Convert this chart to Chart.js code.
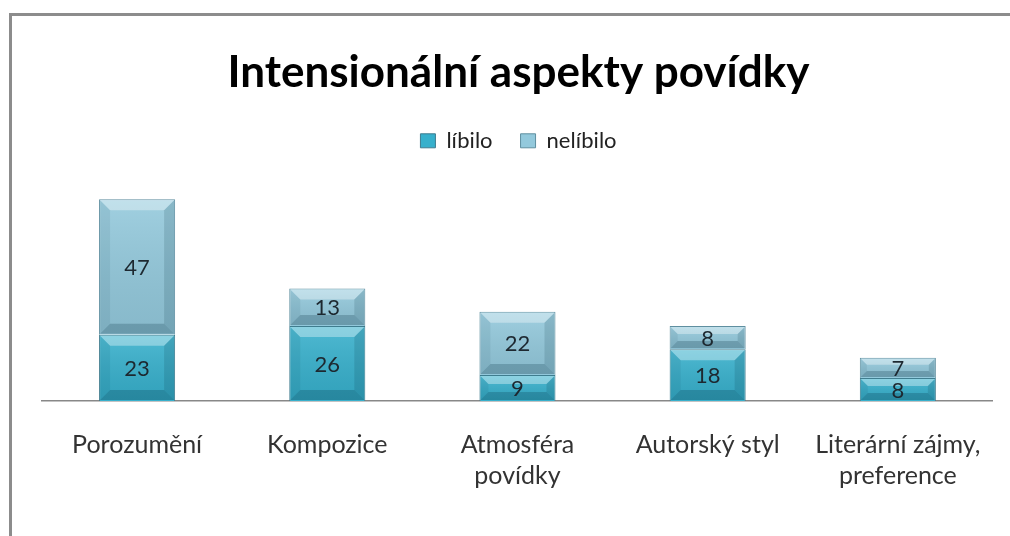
<!DOCTYPE html>
<html>
<head>
<meta charset="utf-8">
<script src="https://cdn.jsdelivr.net/npm/chart.js@4/dist/chart.umd.min.js"></script>
<style>
    html, body { margin: 0; padding: 0; background: #fff; }
    .wrap { position: relative; width: 1010px; height: 536px; overflow: hidden; }
    .frame {
        position: absolute; left: 9px; top: 13px; width: 1010px; height: 540px;
        border-left: 3px solid #8c8c8c; border-top: 3px solid #8c8c8c;
    }
    canvas { position: absolute; left: 0; top: 0; }
</style>
</head>
<body>
<div class="wrap">
    <div class="frame"></div>
    <canvas id="chart" width="1010" height="536"></canvas>
</div>
<script>
const categories = [
    "Porozumění",
    "Kompozice",
    ["Atmosféra", "povídky"],
    "Autorský styl",
    ["Literární zájmy,", "preference"],
];
const likedValues = [23, 26, 9, 18, 8];
const dislikedValues = [47, 13, 22, 8, 7];

const FONT = "Lato, 'Open Sans', sans-serif";

// bevel look of the original bars + value labels in the middle of each segment
const barDecor = {
    id: "barDecor",
    afterDatasetsDraw(chart) {
        const ctx = chart.ctx;
        const poly = (pts, fill) => {
            ctx.beginPath();
            ctx.moveTo(pts[0][0], pts[0][1]);
            pts.slice(1).forEach((p) => ctx.lineTo(p[0], p[1]));
            ctx.closePath();
            ctx.fillStyle = fill;
            ctx.fill();
        };
        ctx.save();
        chart.data.datasets.forEach((ds, i) => {
            const meta = chart.getDatasetMeta(i);
            meta.data.forEach((bar, j) => {
                const { x, y, base, width } = bar.getProps(["x", "y", "base", "width"], true);
                const l = x - width / 2 + 1, r = x + width / 2 - 1;
                const t = Math.min(y, base) + 1, b = Math.max(y, base) - 1;
                const s = Math.min(10, (b - t) / 3);

                const g = ctx.createLinearGradient(0, t, 0, b);
                g.addColorStop(0, "rgba(255,255,255,0.12)");
                g.addColorStop(1, "rgba(0,0,0,0.08)");
                ctx.fillStyle = g;
                ctx.fillRect(l, t, r - l, b - t);

                poly([[l, t], [r, t], [r - s, t + s], [l + s, t + s]], "rgba(255,255,255,0.35)");
                poly([[l, b], [r, b], [r - s, b - s], [l + s, b - s]], "rgba(0,40,60,0.22)");
                poly([[l, t], [l + s, t + s], [l + s, b - s], [l, b]], "rgba(0,40,60,0.07)");
                poly([[r, t], [r - s, t + s], [r - s, b - s], [r, b]], "rgba(0,40,60,0.14)");

                ctx.fillStyle = "#1d2830";
                ctx.font = "22px " + FONT;
                ctx.textAlign = "center";
                ctx.textBaseline = "middle";
                ctx.fillText(String(ds.data[j]), x, (y + base) / 2 + 1);
            });
        });
        ctx.restore();
    },
};

new Chart(document.getElementById("chart").getContext("2d"), {
    type: "bar",
    data: {
        labels: categories,
        datasets: [
            {
                label: "líbilo",
                data: likedValues,
                backgroundColor: "#37b0cc",
                borderColor: "#3f7d8f",
                borderWidth: 1,
                barPercentage: 0.4,
                categoryPercentage: 1,
            },
            {
                label: "nelíbilo",
                data: dislikedValues,
                backgroundColor: "#93c9dc",
                borderColor: "#5f8fa0",
                borderWidth: 1,
                barPercentage: 0.4,
                categoryPercentage: 1,
            },
        ],
    },
    options: {
        responsive: false,
        animation: false,
        layout: { padding: { top: 10, left: 42, right: 15, bottom: 17 } },
        plugins: {
            title: {
                display: true,
                text: "Intensionální aspekty povídky",
                color: "#000",
                font: { family: FONT, size: 44, weight: "bold" },
                padding: { top: 36, bottom: 3 },
            },
            legend: {
                position: "top",
                labels: {
                    color: "#222",
                    font: { family: FONT, size: 22 },
                    boxWidth: 15,
                    boxHeight: 14,
                    padding: 28,
                },
            },
            tooltip: { enabled: false },
        },
        scales: {
            x: {
                stacked: true,
                grid: { display: false, drawTicks: false },
                border: { display: true, color: "#888", width: 1.5 },
                ticks: {
                    color: "#333",
                    font: { family: FONT, size: 25, lineHeight: 1.24 },
                    padding: 28,
                    maxRotation: 0,
                    autoSkip: false,
                },
            },
            y: {
                stacked: true,
                display: false,
                min: 0,
                max: 83,
            },
        },
    },
    plugins: [barDecor],
});
</script>
</body>
</html>
